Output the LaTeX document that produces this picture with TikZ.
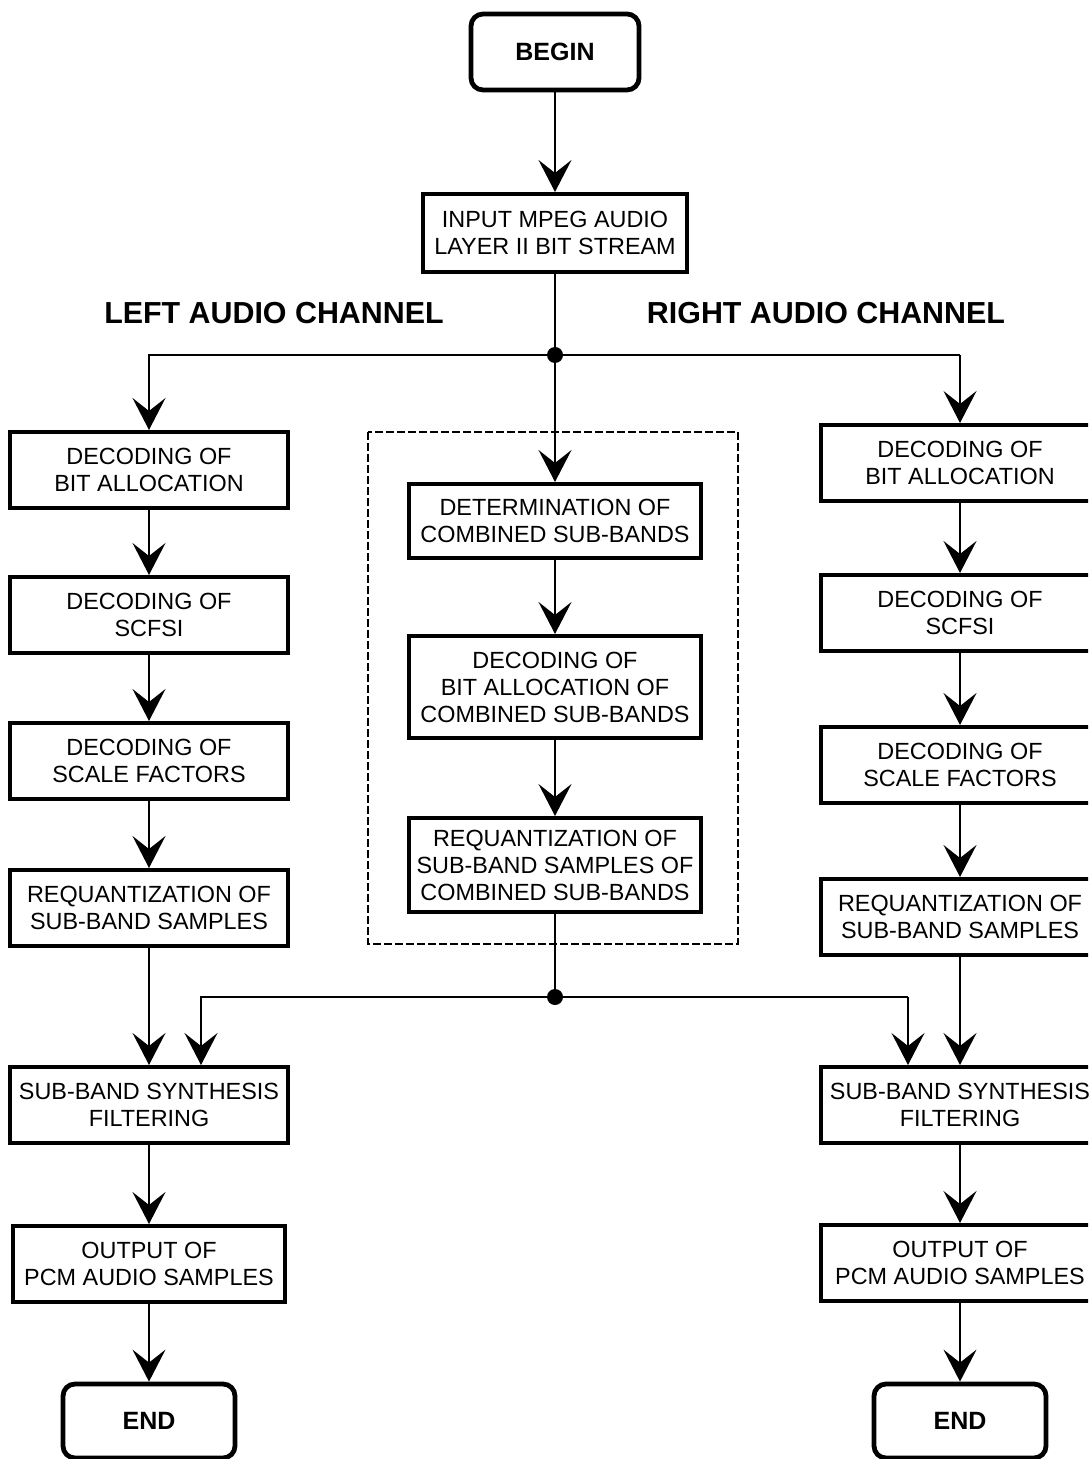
\documentclass[tikz,border=0pt]{standalone}
\usepackage{fontspec}
\setmainfont{Liberation Sans}
\usetikzlibrary{arrows.meta}

\tikzset{
  blk/.style={draw,line width=2pt,minimum width=139pt,minimum height=38pt,
    align=center,inner sep=1pt,font=\fontsize{11.7}{13.5}\selectfont},
  term/.style={draw,line width=2.4pt,rounded corners=6pt,minimum width=86pt,
    minimum height=37pt,font=\bfseries\fontsize{12.5}{14}\selectfont},
  chan/.style={font=\bfseries\fontsize{15.2}{17}\selectfont},
  arr/.style={line width=1pt,-{Stealth[length=16pt,width=16.5pt,inset=6.5pt]}},
  thinarr/.style={arr,line width=0.6pt},
  link/.style={line width=1pt},
  frame/.style={line width=0.8pt,dash pattern=on 4pt off 1.5pt},
  dot/.style={circle,fill,inner sep=0pt,minimum size=8pt},
}

\begin{document}
\begin{tikzpicture}[x=0.5pt,y=-0.5pt]
  \useasboundingbox (0,0) rectangle (1088,1459);
  \clip (0,0) rectangle (1088,1459);

  % top part
  \node[term,minimum width=84pt,minimum height=38pt] (begin) at (555,52) {BEGIN};
  \node[blk,minimum width=132pt,minimum height=39pt] (input) at (555,233) {INPUT MPEG AUDIO\\LAYER II BIT STREAM};
  \node[chan] (lchan) at (274,313) {LEFT AUDIO CHANNEL};
  \node[chan] (rchan) at (826,313) {RIGHT AUDIO CHANNEL};
  \node[dot] (j1) at (555,355) {};
  \node[dot] (j2) at (555,997) {};

  % combined sub-bands (dashed frame)
  \draw[frame] (368,432) rectangle (738,944);
  \node[blk,minimum width=146pt,minimum height=37pt] (mdet) at (555,521) {DETERMINATION OF\\COMBINED SUB-BANDS};
  \node[blk,minimum width=146pt,minimum height=51pt] (mbit) at (555,687) {DECODING OF\\BIT ALLOCATION OF\\COMBINED SUB-BANDS};
  \node[blk,minimum width=146pt,minimum height=47pt] (mreq) at (555,865) {REQUANTIZATION OF\\SUB-BAND SAMPLES OF\\COMBINED SUB-BANDS};

  % left channel
  \node[blk] (lbit) at (149,470) {DECODING OF\\BIT ALLOCATION};
  \node[blk] (lscf) at (149,615) {DECODING OF\\SCFSI};
  \node[blk] (lsca) at (149,761) {DECODING OF\\SCALE FACTORS};
  \node[blk] (lreq) at (149,908) {REQUANTIZATION OF\\SUB-BAND SAMPLES};
  \node[blk] (lsyn) at (149,1105) {SUB-BAND SYNTHESIS\\FILTERING};
  \node[blk,minimum width=136pt] (lout) at (149,1264) {OUTPUT OF\\PCM AUDIO SAMPLES};
  \node[term] (lend) at (149,1421) {END};

  % right channel
  \node[blk] (rbit) at (960,463) {DECODING OF\\BIT ALLOCATION};
  \node[blk] (rscf) at (960,613) {DECODING OF\\SCFSI};
  \node[blk] (rsca) at (960,765) {DECODING OF\\SCALE FACTORS};
  \node[blk] (rreq) at (960,917) {REQUANTIZATION OF\\SUB-BAND SAMPLES};
  \node[blk] (rsyn) at (960,1105) {SUB-BAND SYNTHESIS\\FILTERING};
  \node[blk] (rout) at (960,1263) {OUTPUT OF\\PCM AUDIO SAMPLES};
  \node[term] (rend) at (960,1421) {END};

  % connectors
  \draw[arr] (begin) -- (input);
  \draw[link] (input) -- (j1.center);
  \draw[arr] (j1.center) -| (lbit.north);
  \draw[arr] (j1.center) -- (mdet.north);
  \draw[link] (j1.center) -- (rbit.north |- j1.center);
  \draw[thinarr] (rbit.north |- j1.center) -- (rbit.north);

  \draw[arr] (mdet) -- (mbit);
  \draw[arr] (mbit) -- (mreq);
  \draw[link] (mreq) -- (j2.center);

  \draw[arr] (lbit) -- (lscf);
  \draw[arr] (lscf) -- (lsca);
  \draw[arr] (lsca) -- (lreq);
  \draw[arr] (lreq) -- (lsyn);
  \draw[arr] (j2.center) -| ([xshift=26pt]lsyn.north);
  \draw[arr] (lsyn) -- (lout);
  \draw[arr] (lout) -- (lend);

  \draw[arr] (rbit) -- (rscf);
  \draw[arr] (rscf) -- (rsca);
  \draw[arr] (rsca) -- (rreq);
  \draw[arr] (rreq) -- (rsyn);
  \draw[link] (j2.center) -- ([xshift=-26pt]rsyn.north |- j2.center);
  \draw[thinarr] ([xshift=-26pt]rsyn.north |- j2.center) -- ([xshift=-26pt]rsyn.north);
  \draw[arr] (rsyn) -- (rout);
  \draw[arr] (rout) -- (rend);
\end{tikzpicture}
\end{document}
